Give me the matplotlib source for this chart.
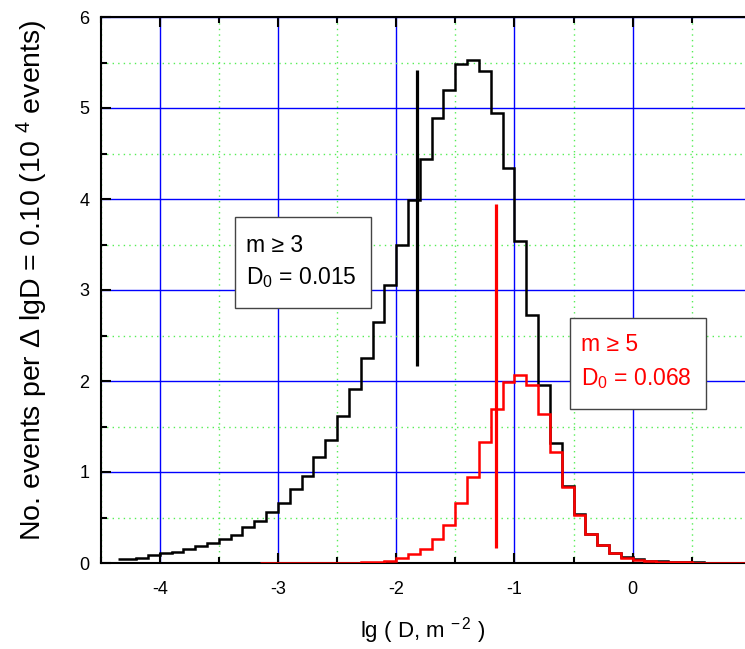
import numpy as np
import matplotlib
matplotlib.use("Agg")
import matplotlib.pyplot as plt
from matplotlib.patches import Rectangle

plt.rcParams['font.family'] = ['Liberation Sans', 'DejaVu Sans']
plt.rcParams['mathtext.fontset'] = 'custom'
plt.rcParams['mathtext.rm'] = 'Liberation Sans'
plt.rcParams['mathtext.it'] = 'Liberation Sans:italic'
plt.rcParams['axes.unicode_minus'] = False

# events per 0.1 bin of lg D (10^4 events); first value = bin starting at the first lgD
lgD_start_m3 = -4.3
events_m3 = [0.04, 0.06, 0.09, 0.11, 0.12, 0.15, 0.19, 0.22, 0.26, 0.31,
             0.40, 0.46, 0.56, 0.66, 0.81, 0.96, 1.16, 1.35, 1.62, 1.91,
             2.25, 2.65, 3.05, 3.49, 3.99, 4.44, 4.89, 5.20, 5.48, 5.53,
             5.41, 4.94, 4.34, 3.54, 2.73, 1.96, 1.32, 0.85, 0.54, 0.32,
             0.20, 0.11, 0.07, 0.04, 0.025, 0.018, 0.012, 0.008, 0.006, 0.005,
             0.004, 0.003, 0.003]

lgD_start_m5 = -3.1
events_m5 = [0.0, 0.0, 0.0, 0.0, 0.0, 0.001, 0.002, 0.003, 0.006, 0.013,
             0.025, 0.05, 0.10, 0.15, 0.26, 0.42, 0.66, 0.95, 1.33, 1.69,
             1.99, 2.07, 1.96, 1.64, 1.22, 0.83, 0.53, 0.32, 0.20, 0.11,
             0.06, 0.03, 0.02, 0.015, 0.01, 0.006, 0.005, 0.004, 0.003, 0.003,
             0.003]

# median markers: lg D0 and the y-span of each marker line
lgD0_m3, span_m3 = -1.826, (2.17, 5.42)
lgD0_m5, span_m5 = -1.155, (0.16, 3.95)

labels_m3 = ['m ≥ 3', 'D$_0$ = 0.015']
labels_m5 = ['m ≥ 5', 'D$_0$ = 0.068']


def bin_edges(first, n):
    e = np.round(first + 0.1 * np.arange(n + 1), 2)
    e[0] -= 0.05
    e[-1] -= 0.05
    return e


fig = plt.figure(figsize=(7.45, 6.49), dpi=100)
ax = fig.add_axes([100.6 / 745, 1 - 563 / 649, 644.4 / 745, 546 / 649])

ax.set_xlim(-4.5, 0.95)
ax.set_ylim(0, 6)
ax.set_xticks([-4, -3, -2, -1, 0])
ax.set_xticks(np.arange(-4.5, 1.0, 0.5), minor=True)
ax.set_yticks(range(7))
ax.set_yticks(np.arange(0.5, 6, 1.0), minor=True)
ax.grid(which='major', color='#0000ff', lw=1.0, zorder=0)
ax.grid(which='minor', color='#55ee55', lw=1.0, ls=(0, (1, 3)), zorder=0)
ax.set_axisbelow(True)

ax.tick_params(which='both', direction='in', top=True, right=False, width=1.5)
ax.tick_params(which='major', length=7, labelsize=13)
ax.tick_params(axis='x', which='major', pad=13)
ax.tick_params(axis='y', which='major', pad=8)
ax.tick_params(which='minor', length=4)
for s in ['left', 'bottom', 'top']:
    ax.spines[s].set_linewidth(1.5)
ax.spines['right'].set_visible(False)

ax.stairs(events_m3, bin_edges(lgD_start_m3, len(events_m3)), baseline=None,
          color='black', lw=1.8, zorder=3)
ax.stairs(events_m5, bin_edges(lgD_start_m5, len(events_m5)), baseline=None,
          color='#ff0000', lw=1.8, zorder=4)

ax.vlines(lgD0_m3, *span_m3, color='black', lw=2.3, zorder=5)
ax.vlines(lgD0_m5, *span_m5, color='#ff0000', lw=2.3, zorder=5)

# annotation boxes
ax.add_patch(Rectangle((-3.364, 2.80), 1.149, 1.006, facecolor='white',
                       edgecolor='#444444', lw=1.0, zorder=2))
ax.add_patch(Rectangle((-0.533, 1.69), 1.156, 1.00, facecolor='white',
                       edgecolor='#444444', lw=1.0, zorder=2))
ax.text(-3.27, 3.49, labels_m3[0], fontsize=16.5, va='center', zorder=6)
ax.text(-3.27, 3.14, labels_m3[1], fontsize=16.5, va='center', zorder=6)
ax.text(-0.434, 2.40, labels_m5[0], fontsize=16.5, va='center', color='#ff0000', zorder=6)
ax.text(-0.434, 2.03, labels_m5[1], fontsize=16.5, va='center', color='#ff0000', zorder=6)

ax.set_xlabel('lg ( D, m $^{-\\,2}$ )', fontsize=16, labelpad=12)
ax.set_ylabel('No. events per Δ lgD = 0.10 (10 $^{4}$ events)', fontsize=20.5)
ax.yaxis.set_label_coords(-0.078, 0.518)

fig.savefig('out.png', dpi=100)
